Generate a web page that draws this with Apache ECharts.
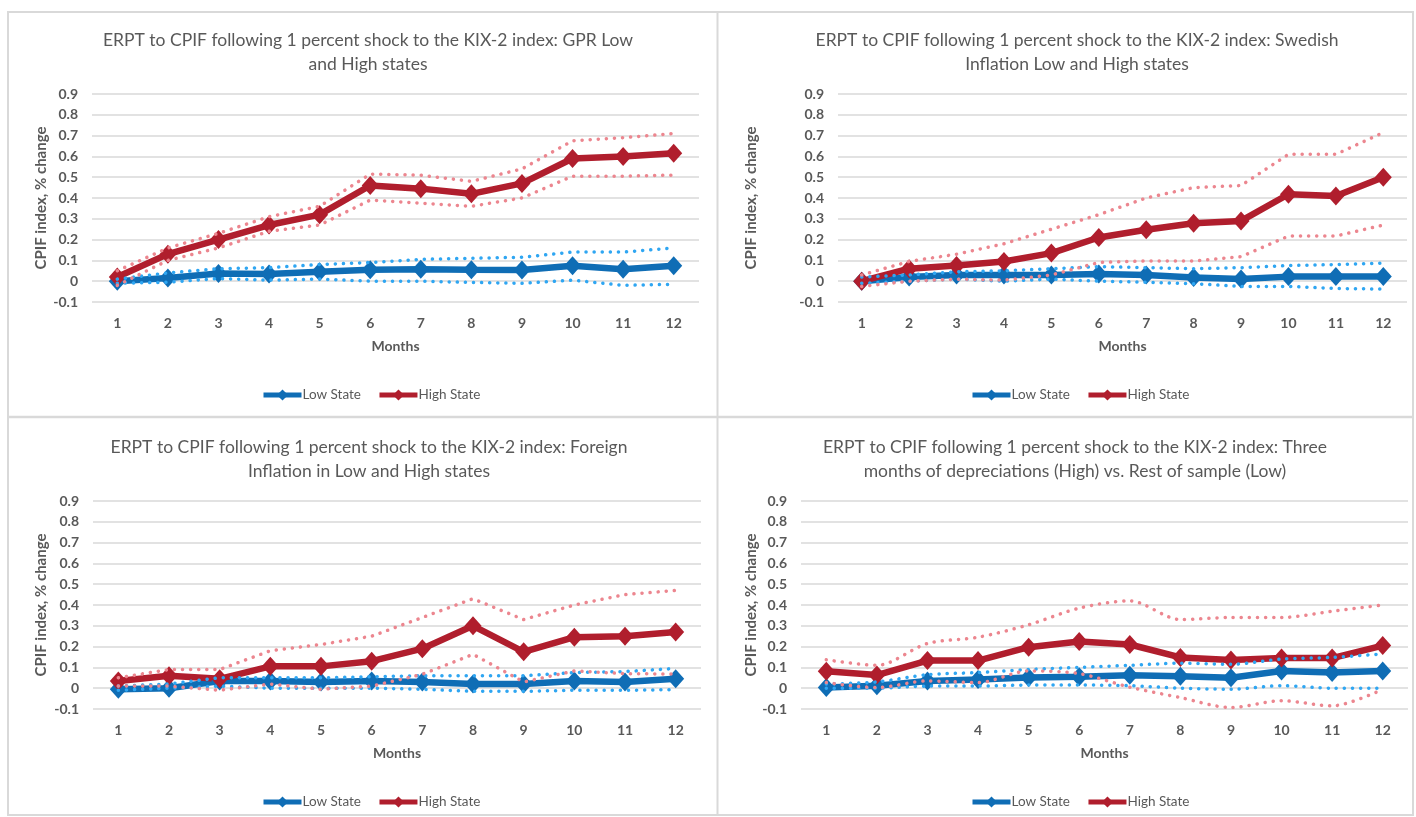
<!DOCTYPE html>
<html>
<head>
<meta charset="utf-8">
<script src="https://cdn.jsdelivr.net/npm/echarts@6/dist/echarts.min.js"></script>
<style>
  html, body { margin: 0; padding: 0; background: #ffffff; }
  #chart { width: 1416px; height: 817px; }
</style>
</head>
<body>
<div id="chart"></div>
<script>
// Horizon (months after the shock)
const months = ['1', '2', '3', '4', '5', '6', '7', '8', '9', '10', '11', '12'];

// Geopolitical risk (GPR) states
const gprLow       = [0.000, 0.015, 0.037, 0.035, 0.045, 0.055, 0.058, 0.055, 0.054, 0.074, 0.058, 0.074];
const gprLowUpper  = [0.010, 0.040, 0.060, 0.065, 0.080, 0.090, 0.105, 0.110, 0.115, 0.140, 0.140, 0.160];
const gprLowLower  = [-0.010, -0.005, 0.013, 0.005, 0.010, 0.000, 0.000, -0.006, -0.010, 0.005, -0.020, -0.015];
const gprHigh      = [0.020, 0.130, 0.200, 0.270, 0.320, 0.460, 0.445, 0.420, 0.470, 0.590, 0.600, 0.615];
const gprHighUpper = [0.050, 0.160, 0.230, 0.310, 0.360, 0.515, 0.510, 0.480, 0.540, 0.675, 0.690, 0.710];
const gprHighLower = [-0.020, 0.100, 0.160, 0.240, 0.270, 0.390, 0.375, 0.360, 0.400, 0.505, 0.505, 0.510];

// Swedish inflation states
const sweLow       = [0.000, 0.020, 0.030, 0.030, 0.030, 0.035, 0.030, 0.018, 0.011, 0.022, 0.022, 0.022];
const sweLowUpper  = [0.020, 0.030, 0.045, 0.050, 0.060, 0.070, 0.065, 0.060, 0.065, 0.075, 0.080, 0.087];
const sweLowLower  = [-0.010, 0.000, 0.010, 0.000, 0.010, 0.000, -0.005, -0.012, -0.025, -0.025, -0.035, -0.038];
const sweHigh      = [0.000, 0.060, 0.075, 0.095, 0.135, 0.210, 0.247, 0.279, 0.290, 0.418, 0.410, 0.500];
const sweHighUpper = [0.030, 0.095, 0.130, 0.180, 0.250, 0.320, 0.400, 0.450, 0.460, 0.610, 0.610, 0.715];
const sweHighLower = [-0.025, 0.000, 0.010, 0.005, 0.030, 0.090, 0.097, 0.097, 0.118, 0.217, 0.217, 0.270];

// Foreign inflation states
const forLow       = [-0.005, 0.000, 0.035, 0.035, 0.030, 0.035, 0.030, 0.020, 0.020, 0.035, 0.030, 0.045];
const forLowUpper  = [0.010, 0.020, 0.050, 0.050, 0.050, 0.055, 0.060, 0.060, 0.060, 0.075, 0.080, 0.095];
const forLowLower  = [-0.010, 0.000, 0.010, 0.000, 0.000, 0.000, -0.005, -0.015, -0.015, -0.010, -0.010, -0.007];
const forHigh      = [0.035, 0.060, 0.045, 0.105, 0.105, 0.130, 0.190, 0.300, 0.175, 0.245, 0.250, 0.270];
const forHighUpper = [0.050, 0.090, 0.090, 0.180, 0.210, 0.250, 0.340, 0.430, 0.330, 0.400, 0.450, 0.470];
const forHighLower = [0.010, 0.010, -0.010, 0.020, -0.005, 0.010, 0.067, 0.163, 0.030, 0.083, 0.070, 0.068];

// Three months of depreciations (High) vs rest of sample (Low)
const depLow       = [0.003, 0.012, 0.035, 0.042, 0.052, 0.055, 0.062, 0.057, 0.050, 0.083, 0.075, 0.083];
const depLowUpper  = [0.020, 0.030, 0.065, 0.075, 0.090, 0.100, 0.110, 0.120, 0.115, 0.140, 0.148, 0.165];
const depLowLower  = [0.000, 0.000, 0.010, 0.010, 0.015, 0.015, 0.012, 0.000, -0.005, 0.012, 0.000, 0.000];
const depHigh      = [0.082, 0.063, 0.133, 0.133, 0.197, 0.225, 0.210, 0.148, 0.135, 0.145, 0.145, 0.205];
const depHighUpper = [0.137, 0.110, 0.215, 0.245, 0.305, 0.385, 0.420, 0.330, 0.340, 0.340, 0.370, 0.400];
const depHighLower = [0.027, 0.003, 0.035, 0.027, 0.083, 0.070, 0.005, -0.045, -0.093, -0.060, -0.085, -0.005];

// Panel titles
const titles = [
  'ERPT to CPIF following 1 percent shock to the KIX-2 index: GPR Low\nand High states',
  'ERPT to CPIF following 1 percent shock to the KIX-2 index: Swedish\nInflation Low and High states',
  'ERPT to CPIF following 1 percent shock to the KIX-2 index: Foreign\nInflation in Low and High states',
  'ERPT to CPIF following 1 percent shock to the KIX-2 index: Three\nmonths of depreciations (High) vs. Rest of sample (Low)'
];
const seriesNames = ['Low State', 'High State'];
const yAxisName = 'CPIF index, % change';
const xAxisName = 'Months';

const panelData = [
  { low: gprLow, lowUp: gprLowUpper, lowDn: gprLowLower, high: gprHigh, highUp: gprHighUpper, highDn: gprHighLower },
  { low: sweLow, lowUp: sweLowUpper, lowDn: sweLowLower, high: sweHigh, highUp: sweHighUpper, highDn: sweHighLower },
  { low: forLow, lowUp: forLowUpper, lowDn: forLowLower, high: forHigh, highUp: forHighUpper, highDn: forHighLower },
  { low: depLow, lowUp: depLowUpper, lowDn: depLowLower, high: depHigh, highUp: depHighUpper, highDn: depHighLower }
];

// Layout of the four panels (page pixels)
const layout = [
  { grid: { left: 92,  right: 717, top: 94,  bottom: 515 }, titleX: 363,  titleTop: 23,  legendLeft: 256, legendTop: 383, nameGap: 43, smooth: false },
  { grid: { left: 838, right: 9,   top: 94,  bottom: 515 }, titleX: 1072, titleTop: 23,  legendLeft: 965, legendTop: 383, nameGap: 79, smooth: false },
  { grid: { left: 93,  right: 715, top: 501, bottom: 108 }, titleX: 364,  titleTop: 430, legendLeft: 256, legendTop: 790, nameGap: 44, smooth: false },
  { grid: { left: 801, right: 8,   top: 501, bottom: 108 }, titleX: 1070, titleTop: 430, legendLeft: 965, legendTop: 790, nameGap: 42, smooth: 0.3 }
];

const BLUE = '#0f6db5';
const RED = '#b01e2d';
const BLUE_DOT = '#2fa6f2';
const RED_DOT = '#ec868f';
const GREY_TEXT = '#595959';
const FONT = 'Lato, "Open Sans", sans-serif';

const grids = [], xAxes = [], yAxes = [], series = [], titleList = [], legends = [];

layout.forEach((p, i) => {
  const d = panelData[i];
  grids.push(Object.assign({ containLabel: false }, p.grid));

  titleList.push({
    text: titles[i],
    left: p.titleX,
    top: p.titleTop,
    textAlign: 'center',
    textStyle: { fontFamily: FONT, fontSize: 17.5, fontWeight: 'normal', color: GREY_TEXT, lineHeight: 24 }
  });

  legends.push({
    data: seriesNames,
    left: p.legendLeft,
    top: p.legendTop,
    itemWidth: 38,
    itemHeight: 14,
    itemGap: 16,
    lineStyle: { width: 5 },
    textStyle: { fontFamily: FONT, fontSize: 13.5, color: GREY_TEXT, padding: [0, 0, 0, -4] }
  });

  xAxes.push({
    type: 'category',
    gridIndex: i,
    data: months,
    boundaryGap: true,
    axisLine: { show: false },
    axisTick: { show: false },
    axisLabel: { fontFamily: FONT, fontSize: 14, fontWeight: 'bold', color: GREY_TEXT, margin: 14 },
    name: xAxisName,
    nameLocation: 'middle',
    nameGap: 37,
    nameTextStyle: { fontFamily: FONT, fontSize: 14, fontWeight: 'bold', color: GREY_TEXT }
  });

  yAxes.push({
    type: 'value',
    gridIndex: i,
    min: -0.1,
    max: 0.9,
    interval: 0.1,
    axisLine: { show: false },
    axisTick: { show: false },
    axisLabel: {
      fontFamily: FONT, fontSize: 14, fontWeight: 'bold', color: GREY_TEXT, margin: 14,
      formatter: v => String(Math.round(v * 10) / 10)
    },
    splitLine: { lineStyle: { color: '#d9d9d9', width: 1.5 } },
    name: yAxisName,
    nameLocation: 'middle',
    nameGap: p.nameGap,
    nameTextStyle: { fontFamily: FONT, fontSize: 15, fontWeight: 'bold', color: GREY_TEXT }
  });

  const main = (name, data, color) => ({
    name, type: 'line', xAxisIndex: i, yAxisIndex: i, data,
    symbol: 'diamond', symbolSize: [17, 19], showSymbol: true,
    lineStyle: { color, width: 6.5 },
    itemStyle: { color },
    z: 3
  });
  const band = (name, data, color) => ({
    name, type: 'line', xAxisIndex: i, yAxisIndex: i, data,
    symbol: 'none', smooth: p.smooth,
    lineStyle: { color, width: 3.5, type: [0.1, 8], cap: 'round' },
    z: 4
  });

  series.push(main('Low State', d.low, BLUE));
  series.push(main('High State', d.high, RED));
  series.push(band('Low State upper', d.lowUp, BLUE_DOT));
  series.push(band('Low State lower', d.lowDn, BLUE_DOT));
  series.push(band('High State upper', d.highUp, RED_DOT));
  series.push(band('High State lower', d.highDn, RED_DOT));
});

const chart = echarts.init(document.getElementById('chart'), null, { renderer: 'canvas' });
chart.setOption({
  backgroundColor: '#ffffff',
  animation: false,
  title: titleList,
  legend: legends,
  grid: grids,
  xAxis: xAxes,
  yAxis: yAxes,
  series: series,
  graphic: [
    { type: 'rect', z: -10, shape: { x: 8, y: 12, width: 1405, height: 803 }, style: { fill: 'none', stroke: '#d9d9d9', lineWidth: 2 } },
    { type: 'line', z: -10, shape: { x1: 717.5, y1: 12, x2: 717.5, y2: 815 }, style: { stroke: '#d9d9d9', lineWidth: 2 } },
    { type: 'line', z: -10, shape: { x1: 8, y1: 417, x2: 1413, y2: 417 }, style: { stroke: '#d9d9d9', lineWidth: 2.5 } }
  ]
});
</script>
</body>
</html>
